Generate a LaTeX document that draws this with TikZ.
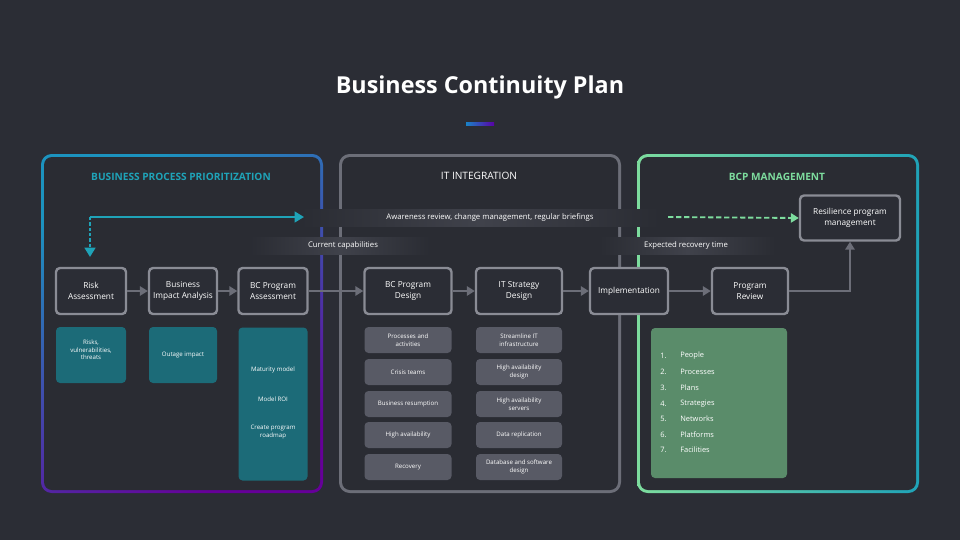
\documentclass[tikz,border=0pt]{standalone}
\usepackage{fontspec}
\setmainfont{Open Sans}
\usetikzlibrary{arrows.meta}
\definecolor{bg}{HTML}{2B2D35}
\definecolor{pbg}{HTML}{2A2C33}
\definecolor{boxb}{HTML}{8A8C95}
\definecolor{teal}{HTML}{1C6B78}
\definecolor{gsub}{HTML}{585A65}
\definecolor{gbox}{HTML}{5A8C6A}
\definecolor{cy}{HTML}{1FA3B8}
\definecolor{gr}{HTML}{7DDC9E}
\definecolor{band}{HTML}{40424B}
\definecolor{arr}{HTML}{6C6E78}
\begin{document}
\begin{tikzpicture}[x=0.75pt,y=-0.75pt,
 stepbox/.style={draw=boxb,line width=1.8pt,rounded corners=3pt,fill=bg,text=white,font=\fontsize{6.2}{8}\selectfont,align=center,inner sep=0pt},
 sub/.style={rounded corners=3pt,text=white,font=\fontsize{4.6}{5.6}\selectfont,align=center,inner sep=0pt},
 flow/.style={draw=arr,line width=1.6pt,-{Triangle[length=6pt,width=7pt]}},
 bandtxt/.style={text=white,font=\fontsize{5.8}{7}\selectfont},
 ptitle/.style={font=\bfseries\fontsize{7.6}{9}\selectfont}]
\fill[bg] (0,0) rectangle (960,540);
\useasboundingbox (0,0) rectangle (960,540);
\node[text=white,font=\bfseries\fontsize{17.5}{20}\selectfont] (title) at (480,87) {Business Continuity Plan};
\fill[left color=cy!80!blue,right color=violet!70!blue] (466,122) rectangle (494,125);
% panels with gradient borders
\shade[rounded corners=8pt,top color=cy!90!blue,bottom color=violet!80!blue,shading angle=30] (41,154) rectangle (323,493);
\fill[pbg,rounded corners=6pt] (44,157) rectangle (320,490);
\fill[rounded corners=8pt,fill=arr] (339,154) rectangle (621,493);
\fill[pbg,rounded corners=6pt] (342,157) rectangle (618,490);
\shade[rounded corners=8pt,left color=gr,right color=cy] (637,154) rectangle (919,493);
\fill[pbg,rounded corners=6pt] (640,157) rectangle (916,490);
\node[ptitle,text=cy] (t1) at (181,177) {BUSINESS PROCESS PRIORITIZATION};
\node[text=white,font=\fontsize{7.6}{9}\selectfont] (t2) at (479,176) {IT INTEGRATION};
\node[ptitle,text=gr] (t3) at (777,177) {BCP MANAGEMENT};
% bands
\shade[left color=pbg,right color=pbg,middle color=band] (300,209) rectangle (660,226);
\node[bandtxt] (aw) at (490,217) {Awareness review, change management, regular briefings};
\shade[left color=pbg,right color=pbg,middle color=band] (250,237) rectangle (430,254);
\node[bandtxt] (cc) at (343,245) {Current capabilities};
\shade[left color=pbg,right color=pbg,middle color=band] (600,237) rectangle (775,254);
\node[bandtxt] (er) at (686,245) {Expected recovery time};
% steps
\node[stepbox,minimum width=0.75*70pt,minimum height=0.75*46pt] (risk) at (91,291) {Risk\\Assessment};
\node[stepbox,minimum width=0.75*68pt,minimum height=0.75*46pt] (bia) at (183,291) {Business\\Impact Analysis};
\node[stepbox,minimum width=0.75*69pt,minimum height=0.75*46pt] (bca) at (273,291) {BC Program\\Assessment};
\node[stepbox,minimum width=0.75*87pt,minimum height=0.75*46pt] (bcd) at (408,291) {BC Program\\Design};
\node[stepbox,minimum width=0.75*86pt,minimum height=0.75*46pt] (its) at (519,291) {IT Strategy\\Design};
\node[stepbox,minimum width=0.75*78pt,minimum height=0.75*46pt] (imp) at (629,291) {Implementation};
\node[stepbox,minimum width=0.75*76pt,minimum height=0.75*46pt] (pr) at (750,291) {Program\\Review};
\node[stepbox,minimum width=0.75*100pt,minimum height=0.75*45pt] (res) at (850,218) {Resilience program\\management};
\draw[flow] (risk) -- (bia);
\draw[flow] (bia) -- (bca);
\draw[flow] (bca) -- (bcd);
\draw[flow] (bcd) -- (its);
\draw[flow] (its) -- (imp);
\draw[flow] (imp) -- (pr);
\draw[flow] (pr.east) -| (res.south);
% cyan arrows
\coordinate (c1) at (90,217);
\coordinate (c2) at (304,217);
\coordinate (c3) at (90,257);
\draw[cy,line width=1.6pt,-{Triangle[length=7pt,width=8pt]}] (c1) -- (c2);
\draw[cy,line width=2.2pt,dash pattern=on 2.5pt off 1.5pt,-{Triangle[length=7pt,width=8pt]}] (c1) -- (c3);
\coordinate (g1) at (668,217);
\draw[gr,line width=1.4pt,dash pattern=on 4pt off 2pt,-{Triangle[length=6pt,width=7pt]}] (g1) -- (res.west);
% teal subs
\node[sub,fill=teal,minimum width=0.75*70pt,minimum height=0.75*56pt] (rs) at (91,355) {};
\node[sub] (rst) at (91,350) {Risks,\\vulnerabilities,\\threats};
\node[sub,fill=teal,minimum width=0.75*68pt,minimum height=0.75*56pt] (bs) at (183,355) {};
\node[sub] (bst) at (183,355) {Outage impact};
\node[sub,fill=teal,minimum width=0.75*69pt,minimum height=0.75*153pt] (as) at (273,404) {};
\node[sub] (a1) at (273,370) {Maturity model};
\node[sub] (a2) at (273,399) {Model ROI};
\node[sub] (a3) at (273,432) {Create program\\roadmap};
% gray subs
\foreach \y/\a/\b [count=\i] in {340/{Processes and\\activities}/{Streamline IT\\infrastructure},372/{Crisis teams}/{High availability\\design},404/{Business resumption}/{High availability\\servers},435/{High availability}/{Data replication},467/{Recovery}/{Database and software\\design}}{
 \node[sub,fill=gsub,minimum width=0.75*87pt,minimum height=0.75*26pt] (ga\i) at (408,\y) {\a};
 \node[sub,fill=gsub,minimum width=0.75*86pt,minimum height=0.75*26pt] (gb\i) at (519,\y) {\b};
}
% green list
\node[sub,fill=gbox,minimum width=0.75*136pt,minimum height=0.75*150pt] (gl) at (719,403) {};
\foreach \y/\t [count=\i] in {356/People,372/Processes,388/Plans,404/Strategies,419/Networks,435/Platforms,450/Facilities}{
 \node[sub,anchor=west,font=\fontsize{5.6}{7}\selectfont] (n\i) at (660,\y) {\i.};
 \node[sub,anchor=west,font=\fontsize{5.6}{7}\selectfont] (l\i) at (680,\y) {\t};
}
\end{tikzpicture}
\end{document}
